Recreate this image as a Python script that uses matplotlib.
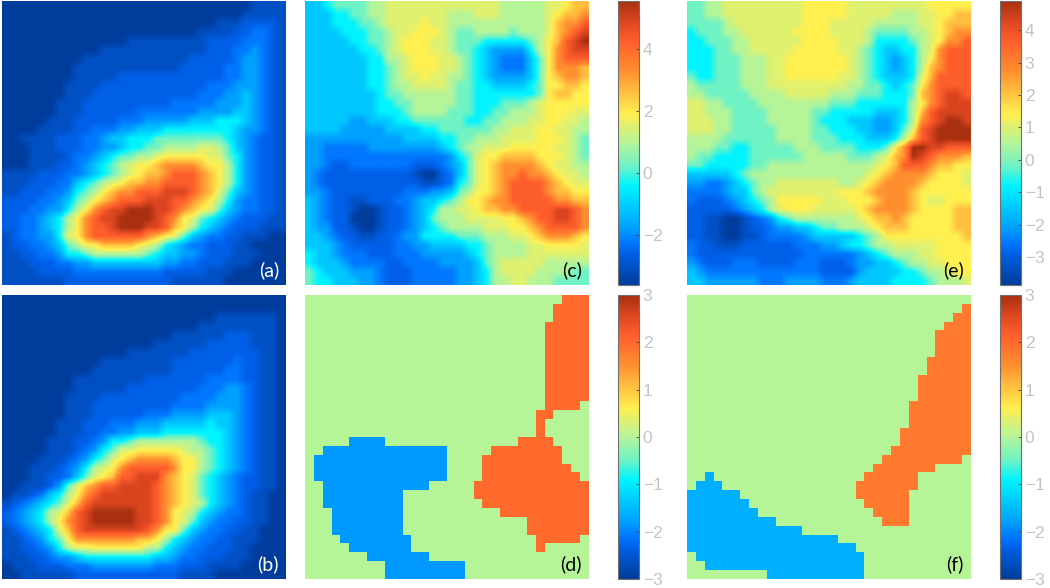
import numpy as np
import matplotlib
matplotlib.use('Agg')
import matplotlib.pyplot as plt
from matplotlib.colors import LinearSegmentedColormap

# colour levels (one hex digit per cell, 32 x 32)
level_pos = [0.0, .06, .11, .15, .20, .27, .35, .42, .50, .56, .60, .68, .75, .86, .93, 1.0]
level_col = ['#003C9C', '#0050C4', '#0060E8', '#0078FF', '#00A0FF', '#00C8FF', '#00F4FF', '#70F2C4',
             '#B5F59A', '#E0F070', '#FFF050', '#FFC040', '#FF9030', '#FF5E2C', '#DC4620', '#A83010']

panel_a = """
00000000 00000000 00000000 00001111
00000000 00000000 00000000 00011111
00000000 00000000 00000000 11122221
00000000 00000000 00000011 11223321
00000000 00000011 11111112 22233321
00000000 00011111 11111112 22334321
00000000 01111111 11111222 22344321
00000000 11111111 11112222 23344321
00000000 11111222 22222222 23344321
00000001 11122222 22222223 33444321
00000001 11222222 22222233 34454321
00000011 12222222 22233333 44454321
00000011 12222223 33333344 44554321
00000111 22222333 44444555 66654321
00001111 22333445 55666666 66544321
00111122 23345566 67777777 76543221
00011122 23344566 77888899 87543221
00011112 33456778 89aaaaa9 97643221
00011122 3456789a abccccba a8643221
11112223 3456789a bbcdddcb a8643221
11122233 56789abb ccddddcb a8643221
11222334 678abccd ddeeedcb 97543221
22223345 78abcddd eeeddcba 86433221
22233446 8acdeeff feedcba9 75433221
22334568 acdeefff fedca976 54322211
22334568 acddefff eedba865 43222111
12334469 acdddddd cba97543 32211100
12233457 8aabbbba 98654332 22110000
11223346 67888888 76554432 22111000
11122233 44555555 55443322 21110000
11112222 33333333 33222221 11000000
11111112 22222222 22211111 10000000
"""

panel_b = """
00000000 00000000 00000000 00000000
00000000 00000000 00000000 00000000
00000000 00000000 00000000 11111110
00000000 00000000 00000011 11111110
00000000 00000000 00011111 12221110
00000000 00000000 01111112 22221110
00000000 00000011 11111222 22222110
00000000 00011111 11122222 22322110
00000000 00111111 11122222 23322110
00000000 11111111 22222223 33322110
00000000 11111122 22222233 34432110
00000001 11122222 22223333 44432110
00000001 11222222 22233334 44432110
00000001 11222222 33344445 55432110
00000011 12223334 44555556 55432110
00000011 12233445 55666666 65432110
00000111 22346678 88888876 65432110
00000111 2346799a aaaa9887 65432110
00001112 34679abc cccbaa87 65432110
00011123 4689acdd dddcaa87 65432110
00011223 579abdde eecba976 54322110
00111247 9bcddeee edcba976 54322110
01123568 acdeeeee edcba976 54321100
12345679 bdeeeeee edcba986 54321100
2345689b defffffe edca9865 43321100
234568ac defffffe edca9754 33221100
1234569b deeeeeee dcaa7543 32211000
1123467a cccccccb ba865433 22111000
11223468 99aaaaaa 88654332 22110000
11122344 56666666 65543322 21110000
01112223 33444444 43332221 11100000
00111111 22222222 22221111 00000000
"""

panel_c = """
55677778 89999999 99999988 88899abb
55566778 89999999 88899988 8889abbc
55566677 89999a99 88888888 8889bccd
55556667 7899aaa9 87788887 8889bcde
55555667 789aaa99 87776666 678abdef
55555566 789aaa99 87765444 468acdee
55555556 6889aaa9 98765433 357acddd
55555556 6789aaa9 98765433 357acccb
55555556 67899a99 88765444 457abccb
55555556 67889999 87766555 567aabba
55555555 67788888 87766666 667abbaa
55555555 66778888 87766677 789aaaaa
55555555 66678888 77766778 889aaa99
55555445 55667777 77667788 899aa998
55554444 45555667 77777889 99aa9988
44444444 44455556 67788899 99aaa987
44333334 44444445 6788999a aaaa9987
44333333 33333333 4679aabb bbaaa987
44322333 33332223 4579abcc ccba9988
43222222 22221002 3579abcc dccba998
43222222 22222112 3679abcd dddcba99
44322222 22233344 578aabcd dddcbbaa
54322112 22334556 78aabccd ddddccbb
54322100 12234568 899abbcc ddddeedc
54322000 12234578 889999aa bcddeedc
54422100 12234567 8888999a abcddddc
55432211 22344666 67778889 9abcccba
55543222 22334455 55667888 899aaaa9
65543332 22333444 44567888 89999999
65554333 32233334 44457899 99988888
76555444 32223333 34456899 99888877
76655544 32223333 34456889 98887777
"""

panel_e = """
77889999 99999aaa aa999999 999aaaaa
77889999 99999aaa aa999998 8899aabb
77778999 99999aaa 99999888 8899abbb
67778899 9999aaaa 99998777 7889abcc
66777889 99999aaa a9998666 6789accd
66677889 9999aaaa a9987655 6689cddd
66677788 899aaaaa aa987654 568acddd
66677788 899aaaaa aa987654 568bcddd
76677788 899aaaaa a9987655 569bdddd
87777788 89999999 99887765 67acdddd
88777778 88899999 88877766 67bcdeed
99887777 88888888 77766666 68acdeee
99888777 78888877 66666555 68bdeeee
99988777 78888876 66555445 68cdeffe
99988777 77888877 66655445 79deffff
88887777 77888877 76665556 8bdeffff
88877667 77778887 7776667a cffeeddd
87766667 77777888 8877789b cfedcccb
77666667 78888888 888889ab dddcbbaa
55555678 88888888 88889abc cccbaaa9
44334567 88999999 9889abcc ccbaaaa9
33334557 89999999 9aaabccc cbaaaaaa
32223456 78aaaaa9 99aaabcc cba99aaa
22222345 689aaa99 999abccc cbaaaabb
22110012 34678888 8889abbc baaaaabb
22110012 23445567 78889abb baaaaabb
22110011 23333455 555678aa aaaaaaab
32211122 22223334 45667889 9999aaaa
32222222 22222333 33345678 8899aaaa
43222333 22223332 22344556 78899aaa
54333333 33333332 22245555 667889aa
55444444 33344443 33455556 66678889
"""

# rows of (first col, last col) for the two regions of the lower panels, read row by row
d_orange = {0: (29, 31), 1: (28, 31), 2: (28, 31), 3: (27, 31), 4: (27, 31), 5: (27, 31), 6: (27, 31), 7: (27, 31),
            8: (27, 31), 9: (27, 31), 10: (27, 31), 11: (27, 31), 12: (27, 30), 13: (26, 27), 14: (26, 26),
            15: (26, 26), 16: (24, 27), 17: (21, 28), 18: (20, 28), 19: (20, 29), 20: (20, 30), 21: (19, 31),
            22: (19, 31), 23: (20, 31), 24: (22, 31), 25: (25, 31), 26: (25, 31), 27: (26, 30), 28: (26, 26)}
d_blue = {16: (5, 8), 17: (2, 15), 18: (1, 15), 19: (1, 15), 20: (1, 15), 21: (2, 13), 22: (2, 10), 23: (2, 10),
          24: (3, 10), 25: (3, 10), 26: (3, 10), 27: (4, 11), 28: (5, 11), 29: (7, 13), 30: (9, 17), 31: (9, 17)}
f_orange = {1: (31, 31), 2: (30, 31), 3: (29, 31), 4: (28, 31), 5: (28, 31), 6: (28, 31), 7: (27, 31), 8: (27, 31),
            9: (26, 31), 10: (26, 31), 11: (26, 31), 12: (25, 31), 13: (25, 31), 14: (25, 31), 15: (24, 31),
            16: (24, 31), 17: (23, 31), 18: (22, 30), 19: (21, 27), 20: (20, 25), 21: (19, 25), 22: (19, 24),
            23: (20, 24), 24: (21, 24), 25: (22, 24)}
f_blue = {20: (2, 2), 21: (1, 3), 22: (0, 5), 23: (0, 6), 24: (0, 7), 25: (0, 9), 26: (0, 12), 27: (0, 16),
          28: (0, 18), 29: (1, 19), 30: (2, 19), 31: (9, 19)}

# flat values of the lower panels: background, orange, blue
d_vals = (0.0, 2.0, -1.85)
f_vals = (0.0, 1.8, -1.62)

c_range = (-3.61, 5.55)
e_range = (-3.86, 4.90)
low_range = (-3, 3)
c_ticks = [-2, 0, 2, 4]
e_ticks = [-3, -2, -1, 0, 1, 2, 3, 4]
low_ticks = [-3, -2, -1, 0, 1, 2, 3]

W, H = 1050, 588
cmap = LinearSegmentedColormap.from_list('jetish', list(zip(level_pos, level_col)), N=256)


def read_levels(txt, vmin, vmax):
    rows = [''.join(line.split()) for line in txt.strip().splitlines()]
    assert all(len(r) == 32 for r in rows) and len(rows) == 32
    out = np.array([[level_pos[int(ch, 16)] for ch in row] for row in rows])
    return vmin + out * (vmax - vmin)


def regions(orange, blue, vals):
    g = np.full((32, 32), vals[0])
    for r, (a, b) in orange.items():
        g[r, a:b + 1] = vals[1]
    for r, (a, b) in blue.items():
        g[r, a:b + 1] = vals[2]
    return g


def px_axes(x0, y0, x1, y1):
    return fig.add_axes([x0 / W, 1 - y1 / H, (x1 - x0) / W, (y1 - y0) / H])


def heat(box, data, vmin, vmax, label, col, interp='bilinear'):
    ax = px_axes(*box)
    im = ax.imshow(data, cmap=cmap, vmin=vmin, vmax=vmax, interpolation=interp, aspect='auto')
    ax.axis('off')
    ax.text(0.975, 0.02, label, transform=ax.transAxes, ha='right', va='bottom',
            color=col, fontsize=14, family='Lato')
    return im


def cbar(box, im, ticks):
    cax = px_axes(*box)
    cb = fig.colorbar(im, cax=cax, ticks=ticks)
    cb.outline.set_edgecolor('#707070')
    cb.outline.set_linewidth(0.8)
    cax.tick_params(axis='y', direction='in', length=2.5, width=0.6, color='#404040',
                    labelcolor='#C4C4C4', labelsize=12.5, pad=3)
    for t in cax.get_yticklabels():
        t.set_family('Liberation Sans')
    return cb


fig = plt.figure(figsize=(W / 100, H / 100), dpi=100)

heat((2, 1, 286, 285), read_levels(panel_a, 0, 1), 0, 1, '(a)', 'white')
heat((2, 295, 286, 579), read_levels(panel_b, 0, 1), 0, 1, '(b)', 'white')

im_c = heat((305, 1, 589, 285), read_levels(panel_c, *c_range), *c_range, '(c)', 'black')
im_e = heat((687, 1, 971, 285), read_levels(panel_e, *e_range), *e_range, '(e)', 'black')
im_d = heat((305, 295, 589, 579), regions(d_orange, d_blue, d_vals), *low_range, '(d)', 'black', 'nearest')
im_f = heat((687, 295, 971, 579), regions(f_orange, f_blue, f_vals), *low_range, '(f)', 'black', 'nearest')

cbar((617.5, 1, 638.5, 285), im_c, c_ticks)
cbar((999.5, 1, 1020.5, 285), im_e, e_ticks)
cbar((617.5, 295, 638.5, 579), im_d, low_ticks)
cbar((999.5, 295, 1020.5, 579), im_f, low_ticks)

fig.savefig('out.png', dpi=100)
